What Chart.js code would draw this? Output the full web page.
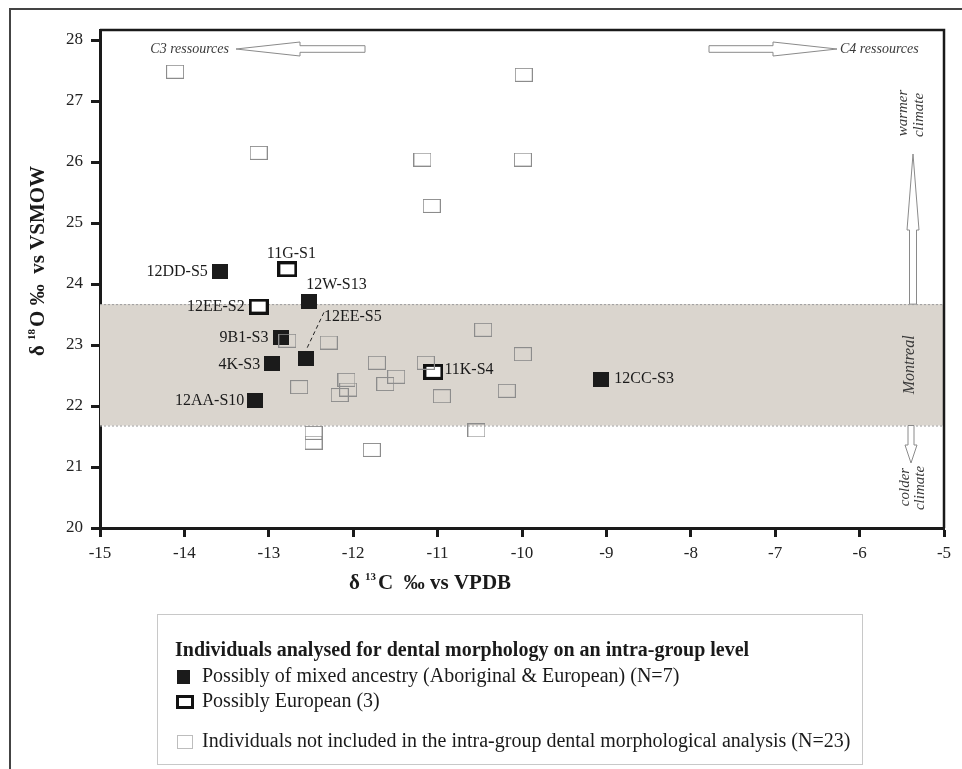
<!DOCTYPE html>
<html>
<head>
<meta charset="utf-8">
<script src="https://cdn.jsdelivr.net/npm/chart.js@4.4.1/dist/chart.umd.min.js"></script>
<style>
  html, body { margin: 0; padding: 0; background: #fff; }
  #wrap { width: 962px; height: 769px; position: relative; }
</style>
</head>
<body>
<div id="wrap"><canvas id="isoChart"></canvas></div>
<script>
// d13C (x) and d18O (y)
const mixedNames = ["12DD-S5", "12W-S13", "9B1-S3", "12EE-S5", "4K-S3", "12AA-S10", "12CC-S3"];
const mixedC = [-13.58, -12.52, -12.85, -12.56, -12.96, -13.16, -9.06];
const mixedO = [24.20, 23.71, 23.12, 22.78, 22.69, 22.09, 22.44];

const europeanNames = ["11G-S1", "12EE-S2", "11K-S4"];
const europeanC = [-12.78, -13.12, -11.05];
const europeanO = [24.24, 23.63, 22.56];

const otherC = [-14.11, -13.12, -11.18, -11.07, -9.98, -9.99, -12.78, -12.29, -12.64, -12.08, -12.06, -12.16,
                -11.72, -11.49, -11.62, -11.14, -10.95, -12.47, -12.47, -11.78, -10.46, -9.99, -10.18, -10.54];
const otherO = [27.48, 26.15, 26.04, 25.28, 27.43, 26.04, 23.07, 23.04, 22.31, 22.43, 22.27, 22.18,
                22.71, 22.48, 22.36, 22.71, 22.16, 21.56, 21.40, 21.28, 23.25, 22.85, 22.25, 21.60];

const xTicks = [-15, -14, -13, -12, -11, -10, -9, -8, -7, -6, -5];
const yTicks = [20, 21, 22, 23, 24, 25, 26, 27, 28];
const montrealBand = [21.68, 23.67];

const serif = "'Liberation Serif', 'Times New Roman', serif";

// label placement next to each named point: dx, dy, align
const labelPos = {
    "12DD-S5": [-12, 0, "right"],
    "12W-S13": [-3, -17, "left"],
    "9B1-S3": [-13, 0, "right"],
    "12EE-S5": [18, -42, "left"],
    "4K-S3": [-12, 1, "right"],
    "12AA-S10": [-11, 0, "right"],
    "12CC-S3": [13, 0, "left"],
    "11G-S1": [4, -16, "center"],
    "12EE-S2": [-14, 0, "right"],
    "11K-S4": [11, -2, "left"],
};

function toPoints(xs, ys) {
    return xs.map((x, i) => ({ x: x, y: ys[i] }));
}

// small canvases used as point styles
function makeMarker(w, h, draw) {
    const c = document.createElement("canvas");
    c.width = w;
    c.height = h;
    draw(c.getContext("2d"), w, h);
    return c;
}
const filledMarker = makeMarker(16, 15, (ctx, w, h) => {
    ctx.fillStyle = "#1b1b1b";
    ctx.fillRect(0, 0, w, h);
});
const europeanMarker = makeMarker(20, 16, (ctx, w, h) => {
    ctx.fillStyle = "#fff";
    ctx.fillRect(0, 0, w, h);
    ctx.lineWidth = 3;
    ctx.strokeStyle = "#111";
    ctx.strokeRect(1.5, 1.5, w - 3, h - 3);
});
const otherMarker = makeMarker(18, 14, (ctx, w, h) => {
    ctx.lineWidth = 1;
    ctx.strokeStyle = "#8c8c8c";
    ctx.strokeRect(0.5, 0.5, w - 1, h - 1);
});

function blockArrow(ctx, x0, y0, x1, y1, headLen, sh, hh) {
    const len = Math.hypot(x1 - x0, y1 - y0);
    const ux = (x1 - x0) / len, uy = (y1 - y0) / len;
    const px = -uy, py = ux;
    const bx = x1 - ux * headLen, by = y1 - uy * headLen;
    ctx.beginPath();
    ctx.moveTo(x0 + px * sh, y0 + py * sh);
    ctx.lineTo(bx + px * sh, by + py * sh);
    ctx.lineTo(bx + px * hh, by + py * hh);
    ctx.lineTo(x1, y1);
    ctx.lineTo(bx - px * hh, by - py * hh);
    ctx.lineTo(bx - px * sh, by - py * sh);
    ctx.lineTo(x0 - px * sh, y0 - py * sh);
    ctx.closePath();
    ctx.fillStyle = "#fff";
    ctx.fill();
    ctx.strokeStyle = "#8a8a8a";
    ctx.lineWidth = 1;
    ctx.stroke();
}

function rotatedText(ctx, text, x, y) {
    ctx.save();
    ctx.translate(x, y);
    ctx.rotate(-Math.PI / 2);
    ctx.fillText(text, 0, 0);
    ctx.restore();
}

// draws "δ <sup> rest" centred on 0,0
function isoTitle(ctx, sup, rest) {
    const big = "bold 21px " + serif;
    const small = "bold 11px " + serif;
    ctx.font = big;
    const w1 = ctx.measureText("δ ").width;
    const w3 = ctx.measureText(rest).width;
    ctx.font = small;
    const w2 = ctx.measureText(sup).width + 2;
    let x = -(w1 + w2 + w3) / 2;
    ctx.textAlign = "left";
    ctx.textBaseline = "alphabetic";
    ctx.font = big;
    ctx.fillText("δ ", x, 7);
    x += w1;
    ctx.font = small;
    ctx.fillText(sup, x, -2);
    x += w2;
    ctx.font = big;
    ctx.fillText(rest, x, 7);
}

const backgroundPlugin = {
    id: "background",
    beforeDatasetsDraw(chart) {
        const { ctx, chartArea: a, scales: { y } } = chart;
        const top = y.getPixelForValue(montrealBand[1]);
        const bot = y.getPixelForValue(montrealBand[0]);
        ctx.save();
        ctx.fillStyle = "#dad5ce";
        ctx.fillRect(a.left, top, a.right - a.left, bot - top);
        ctx.strokeStyle = "#9c9c9c";
        ctx.lineWidth = 1;
        ctx.setLineDash([2, 2]);
        ctx.beginPath();
        ctx.moveTo(a.left, top + 0.5);
        ctx.lineTo(a.right, top + 0.5);
        ctx.moveTo(a.left, bot + 0.5);
        ctx.lineTo(a.right, bot + 0.5);
        ctx.stroke();
        ctx.setLineDash([]);

        // resource / climate arrows
        blockArrow(ctx, 365, 49, 236, 49, 64, 3.3, 7);
        blockArrow(ctx, 709, 49, 837, 49, 64, 3.3, 7);
        blockArrow(ctx, 913, top, 913, 154, 76, 3.5, 6);
        blockArrow(ctx, 911, bot, 911, 463, 18, 3, 6);

        ctx.fillStyle = "#3a3a3a";
        ctx.textBaseline = "middle";
        ctx.font = "italic 14px " + serif;
        ctx.textAlign = "right";
        ctx.fillText("C3 ressources", 229, 49);
        ctx.textAlign = "left";
        ctx.fillText("C4 ressources", 840, 49);
        ctx.textAlign = "center";
        ctx.font = "italic 15px " + serif;
        rotatedText(ctx, "warmer", 903, 113);
        rotatedText(ctx, "climate", 919, 115);
        rotatedText(ctx, "colder", 905, 487);
        rotatedText(ctx, "climate", 920, 488);
        ctx.font = "italic 16px " + serif;
        rotatedText(ctx, "Montreal", 910, (top + bot) / 2);
        ctx.restore();
    },
    afterDatasetsDraw(chart) {
        const { ctx, chartArea: a } = chart;
        ctx.save();

        // point names
        ctx.fillStyle = "#1a1a1a";
        ctx.font = "16px " + serif;
        ctx.textBaseline = "middle";
        chart.data.datasets.forEach((ds, di) => {
            if (!ds.names) return;
            chart.getDatasetMeta(di).data.forEach((pt, i) => {
                const p = labelPos[ds.names[i]];
                ctx.textAlign = p[2];
                ctx.fillText(ds.names[i], pt.x + p[0], pt.y + p[1]);
                if (ds.names[i] === "12EE-S5") {
                    ctx.strokeStyle = "#222";
                    ctx.lineWidth = 1;
                    ctx.setLineDash([4, 3]);
                    ctx.beginPath();
                    ctx.moveTo(pt.x + 18, pt.y - 46);
                    ctx.lineTo(pt.x, pt.y - 8);
                    ctx.stroke();
                    ctx.setLineDash([]);
                }
            });
        });

        // top and right frame of the plot
        ctx.strokeStyle = "#1a1a1a";
        ctx.lineWidth = 2.5;
        ctx.beginPath();
        ctx.moveTo(a.left, a.top);
        ctx.lineTo(a.right, a.top);
        ctx.lineTo(a.right, a.bottom);
        ctx.stroke();

        // axis titles
        ctx.fillStyle = "#1a1a1a";
        ctx.save();
        ctx.translate(430, 582);
        isoTitle(ctx, "13", "C  ‰ vs VPDB");
        ctx.restore();
        ctx.save();
        ctx.translate(37, 261);
        ctx.rotate(-Math.PI / 2);
        isoTitle(ctx, "18", "O ‰  vs VSMOW");
        ctx.restore();

        // legend box
        ctx.strokeStyle = "#c8c8c8";
        ctx.lineWidth = 1;
        ctx.strokeRect(157.5, 614.5, 705, 150);
        ctx.fillStyle = "#1a1a1a";
        ctx.textAlign = "left";
        ctx.textBaseline = "middle";
        ctx.font = "bold 20px " + serif;
        ctx.fillText("Individuals analysed for dental morphology on an intra-group level", 175, 651);
        ctx.font = "20px " + serif;
        ctx.fillText("Possibly of mixed ancestry (Aboriginal & European) (N=7)", 202, 677);
        ctx.fillText("Possibly European (3)", 202, 702);
        ctx.fillText("Individuals not included in the intra-group dental morphological analysis (N=23)", 202, 742);
        ctx.fillStyle = "#1b1b1b";
        ctx.fillRect(177, 670, 13, 14);
        ctx.lineWidth = 3;
        ctx.strokeStyle = "#111";
        ctx.strokeRect(177.5, 696.5, 15, 11);
        ctx.lineWidth = 1;
        ctx.strokeStyle = "#bdbdbd";
        ctx.strokeRect(177.5, 735.5, 15, 13);

        // outer figure frame
        ctx.strokeStyle = "#444";
        ctx.lineWidth = 2;
        ctx.strokeRect(10, 9, 980, 800);
        ctx.restore();
    }
};

new Chart(document.getElementById("isoChart"), {
    type: "scatter",
    data: {
        datasets: [{
                label: "Individuals not included in the intra-group dental morphological analysis (N=23)",
                data: toPoints(otherC, otherO),
                pointStyle: otherMarker,
                pointRadius: 8,
            },
            {
                label: "Possibly of mixed ancestry (Aboriginal & European) (N=7)",
                data: toPoints(mixedC, mixedO),
                names: mixedNames,
                pointStyle: filledMarker,
                pointRadius: 8,
            },
            {
                label: "Possibly European (3)",
                data: toPoints(europeanC, europeanO),
                names: europeanNames,
                pointStyle: europeanMarker,
                pointRadius: 8,
            },
        ],
    },
    options: {
        responsive: true,
        maintainAspectRatio: false,
        animation: false,
        layout: { padding: { left: 10, right: 18, top: 30, bottom: 161 } },
        plugins: { legend: { display: false }, tooltip: { enabled: false } },
        scales: {
            x: {
                type: "linear",
                min: -15,
                max: -5,
                afterBuildTicks: (s) => { s.ticks = xTicks.map((v) => ({ value: v })); },
                afterFit: (s) => { s.height = 80; },
                border: { display: true, color: "#1a1a1a", width: 3 },
                grid: { drawOnChartArea: false, drawTicks: true, tickLength: 9, tickWidth: 3, tickColor: "#1a1a1a" },
                ticks: { color: "#222", font: { family: serif, size: 17 }, padding: 6, maxRotation: 0 },
            },
            y: {
                type: "linear",
                min: 20,
                max: 28.164,
                afterBuildTicks: (s) => { s.ticks = yTicks.map((v) => ({ value: v })); },
                afterFit: (s) => { s.width = 90; },
                border: { display: true, color: "#1a1a1a", width: 3 },
                grid: { drawOnChartArea: false, drawTicks: true, tickLength: 9, tickWidth: 3, tickColor: "#1a1a1a" },
                ticks: { color: "#222", font: { family: serif, size: 17 }, padding: 8 },
            },
        },
    },
    plugins: [backgroundPlugin],
});
</script>
</body>
</html>
